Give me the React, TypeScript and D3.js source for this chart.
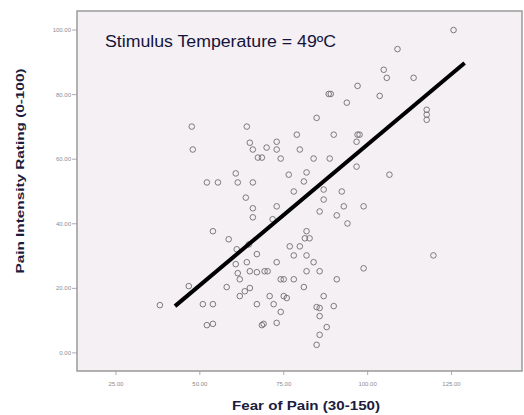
import React, { useEffect, useRef } from "react";
import * as d3 from "d3";

// Fear of Pain score for each participant
const fearOfPain = [
	125.6, 108.9, 104.8, 105.7, 113.7, 97.0, 88.4, 89.0, 103.6, 93.8, 84.8, 117.6, 117.6, 117.6,
	78.9, 89.9, 97.0, 97.6, 96.7, 72.9, 69.9, 72.9, 79.8, 68.5, 74.1, 83.9, 88.7, 96.7, 106.5,
	76.5, 81.8, 81.0, 78.0, 86.9, 86.9, 92.3, 72.9, 92.9, 98.8, 85.7, 90.8, 94.0, 71.7, 81.8,
	81.3, 82.7, 76.8, 79.8, 78.0, 81.8, 119.6, 72.9, 83.9, 69.3, 70.2, 81.8, 85.7, 98.8, 74.1,
	75.0, 78.0, 90.8, 81.0, 70.8, 75.0, 75.9, 86.9, 72.0, 74.1, 84.8, 85.7, 89.9, 85.7, 69.0,
	72.9, 87.8, 85.7, 84.8, 47.6, 64.0, 47.9, 64.9, 65.8, 67.3, 60.7, 52.1, 55.4, 61.3, 65.8,
	63.7, 65.8, 65.8, 53.9, 58.6, 61.0, 64.6, 67.0, 60.7, 64.0, 64.9, 61.3, 61.9, 67.0, 46.7,
	58.0, 61.9, 63.4, 64.9, 38.1, 50.9, 53.9, 67.0, 52.1, 53.9, 68.5,
];

// Pain Intensity Rating at 49°C, same order
const painRating = [
	100.0, 94.1, 87.7, 85.2, 85.2, 82.7, 80.2, 80.2, 79.6, 77.5, 72.8, 75.3, 73.8, 72.2,
	67.6, 67.6, 67.6, 67.6, 65.4, 65.4, 63.6, 63.0, 63.0, 60.5, 60.2, 60.2, 60.2, 57.7, 55.2,
	55.2, 55.9, 53.1, 50.0, 50.6, 47.5, 50.0, 45.4, 45.4, 45.4, 43.8, 42.6, 40.1, 41.4, 37.7,
	35.5, 35.5, 33.0, 33.0, 30.2, 30.2, 30.2, 28.1, 28.1, 25.3, 25.3, 25.3, 25.3, 26.2, 22.8,
	22.8, 22.8, 22.8, 20.4, 17.6, 17.6, 17.0, 17.6, 15.1, 12.7, 14.2, 13.9, 14.5, 11.4, 9.0,
	9.3, 8.0, 5.6, 2.5, 70.1, 70.1, 63.0, 65.1, 63.0, 60.5, 55.6, 52.8, 52.8, 52.8, 52.8,
	48.1, 44.8, 42.0, 37.7, 35.2, 32.1, 33.6, 30.6, 27.5, 28.1, 25.3, 24.7, 22.8, 25.0, 20.7,
	20.4, 17.6, 19.1, 20.1, 14.8, 15.1, 15.1, 15.1, 8.6, 9.0, 8.6,
];

// fit line end points [x, y]
const fitLine = [
	[42.6, 14.5],
	[128.9, 89.8],
];

const xTicks = [25, 50, 75, 100, 125];
const yTicks = [0, 20, 40, 60, 80, 100];
const xDomain = [13.4, 146];
const yDomain = [-5.6, 105.9];

const title = "Stimulus Temperature = 49ºC";
const xLabel = "Fear of Pain (30-150)";
const yLabel = "Pain Intensity Rating (0-100)";

function App() {
	const ref = useRef<SVGSVGElement>(null);

	useEffect(() => {
		const svg = d3.select(ref.current);
		svg.selectAll("*").remove();

		const left = 77,
			right = 522,
			top = 11,
			bottom = 371;

		const x = d3.scaleLinear().domain(xDomain).range([left, right]);
		const y = d3.scaleLinear().domain(yDomain).range([bottom, top]);

		svg
			.append("rect")
			.attr("x", left)
			.attr("y", top)
			.attr("width", right - left)
			.attr("height", bottom - top)
			.attr("fill", "#f4f0f4")
			.attr("stroke", "#9a9a9a")
			.attr("stroke-width", 1.5);

		// y ticks
		svg
			.selectAll(".ytick")
			.data(yTicks)
			.join("line")
			.attr("x1", left - 5)
			.attr("x2", left)
			.attr("y1", (d) => y(d))
			.attr("y2", (d) => y(d))
			.attr("stroke", "#999")
			.attr("stroke-width", 0.8);

		svg
			.selectAll(".ylab")
			.data(yTicks)
			.join("text")
			.text((d) => d3.format(".2f")(d))
			.attr("x", left - 6)
			.attr("y", (d) => y(d))
			.attr("dy", "0.35em")
			.attr("text-anchor", "end")
			.attr("font-size", 6)
			.attr("fill", "#8c8c8c");

		// x ticks
		svg
			.selectAll(".xtick")
			.data(xTicks)
			.join("line")
			.attr("x1", (d) => x(d))
			.attr("x2", (d) => x(d))
			.attr("y1", bottom)
			.attr("y2", bottom + 4)
			.attr("stroke", "#999")
			.attr("stroke-width", 0.8);

		svg
			.selectAll(".xlab")
			.data(xTicks)
			.join("text")
			.text((d) => d3.format(".2f")(d))
			.attr("x", (d) => x(d))
			.attr("y", bottom + 15)
			.attr("text-anchor", "middle")
			.attr("font-size", 6)
			.attr("fill", "#8c8c8c");

		// points
		const pts = fearOfPain.map((f, i) => [f, painRating[i]]);
		svg
			.append("g")
			.selectAll("circle")
			.data(pts)
			.join("circle")
			.attr("cx", (d) => x(d[0]))
			.attr("cy", (d) => y(d[1]))
			.attr("r", 2.8)
			.attr("fill", "none")
			.attr("stroke", "#6e6e6e")
			.attr("stroke-width", 0.9);

		// fit line
		svg
			.append("path")
			.attr(
				"d",
				d3
					.line()
					.x((d) => x(d[0]))
					.y((d) => y(d[1]))(fitLine)
			)
			.attr("stroke", "#000")
			.attr("stroke-width", 4)
			.attr("fill", "none");

		svg
			.append("text")
			.text(title)
			.attr("x", 105)
			.attr("y", 47)
			.attr("font-size", 16)
			.attr("textLength", 231)
			.attr("lengthAdjust", "spacingAndGlyphs")
			.attr("fill", "#14143a");

		svg
			.append("text")
			.text(xLabel)
			.attr("x", 306)
			.attr("y", 410)
			.attr("text-anchor", "middle")
			.attr("font-size", 12)
			.attr("font-weight", "bold")
			.attr("textLength", 148)
			.attr("lengthAdjust", "spacingAndGlyphs")
			.attr("fill", "#1c1c40");

		svg
			.append("text")
			.text(yLabel)
			.attr("transform", "translate(24,171) rotate(-90)")
			.attr("text-anchor", "middle")
			.attr("font-size", 11)
			.attr("font-weight", "bold")
			.attr("textLength", 205)
			.attr("lengthAdjust", "spacingAndGlyphs")
			.attr("fill", "#1c1c40");
	}, []);

	return (
		<svg
			ref={ref}
			width={524}
			height={415}
			fontFamily="Arial, 'Liberation Sans', sans-serif"
			style={{ position: "absolute", left: 0, top: 0, background: "#fff" }}
		/>
	);
}

export default App;
